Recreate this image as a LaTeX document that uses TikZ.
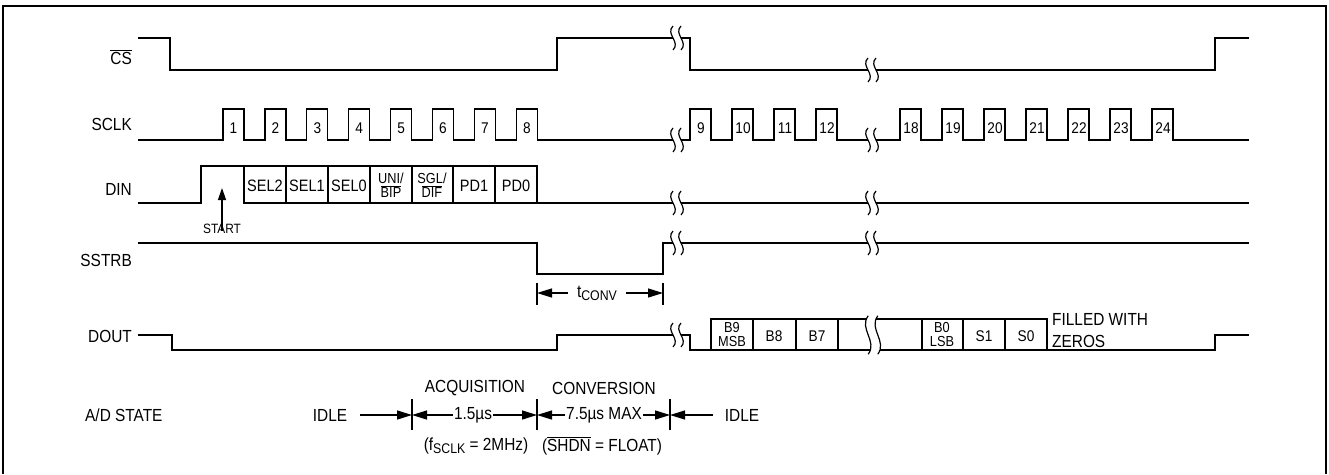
\documentclass[tikz,border=0pt]{standalone}
\usepackage{fontspec}
\setmainfont{Liberation Sans}[FakeStretch=0.88]
\usetikzlibrary{arrows.meta}

\newcommand{\lowsub}[1]{\raisebox{-3pt}{\fontsize{14}{15}\selectfont #1}}

\tikzset{
  brk/.pic={
    \fill[white] (-4,-12) .. controls (-12,-4) and (4,4) .. (-4,12) -- (4,12) .. controls (12,4) and (-4,-4) .. (4,-12) -- cycle;
    \draw[line width=1.2pt] (-4,-12) .. controls (-12,-4) and (4,4) .. (-4,12);
    \draw[line width=1.2pt] (4,-12) .. controls (-4,-4) and (12,4) .. (4,12);
  }
}

\begin{document}
\begin{tikzpicture}[x=1pt,y=-1pt,
    wave/.style={line width=1.3pt},
    sig/.style={anchor=east,inner sep=0pt,font=\fontsize{17.5}{19}\selectfont},
    txt/.style={inner sep=1pt,font=\fontsize{17.5}{19}\selectfont},
    num/.style={inner sep=0pt,font=\fontsize{15.5}{16}\selectfont},
    bit/.style={inner sep=0pt,align=center,font=\fontsize{16.5}{17}\selectfont},
    twoline/.style={inner sep=0pt,align=center,font=\fontsize{14.5}{14}\selectfont},
    dim/.style={line width=1.3pt,-{Triangle[length=15pt,width=9pt]}},
    tick/.style={line width=1.3pt}]
    \useasboundingbox (0,0) rectangle (1329,474);
    \draw[line width=1.5pt] (3,474) -- (3,6) -- (1326,6) -- (1326,474);

    \node[sig] (cs) at (132,57) {$\overline{\mbox{CS}}$};
    \node[sig] (sclk) at (132,124) {SCLK};
    \node[sig] (din) at (132,189) {DIN};
    \node[sig] (sstrb) at (132,260) {SSTRB};
    \node[sig] (dout) at (132,336) {DOUT};
    \node[txt,anchor=west,inner sep=0pt] (adstate) at (85,415) {A/D STATE};

    \draw[wave] (138,38) -- (170,38) -- (170,70) -- (557,70) -- (557,38) -- (690,38)
      -- (690,70) -- (1215,70) -- (1215,38) -- (1249,38);

    \draw[wave] (138,140)
      \foreach \k in {0,...,7} {-- ({223+41.9*\k},140) -- ++(0,-31) -- ++(21,0) -- ++(0,31)}
      \foreach \k in {0,...,3} {-- ({690+42*\k},140) -- ++(0,-31) -- ++(21,0) -- ++(0,31)}
      \foreach \k in {0,...,6} {-- ({900+42*\k},140) -- ++(0,-31) -- ++(21,0) -- ++(0,31)}
      -- (1249,140);
    \foreach \k in {1,...,8} \node[num] (p\k) at ({233.5+41.9*(\k-1)},128) {\k};
    \foreach \k in {9,...,12} \node[num] (p\k) at ({701+42*(\k-9)},128) {\k};
    \foreach \k in {18,...,24} \node[num] (p\k) at ({911+42*(\k-18)},128) {\k};

    \draw[wave] (138,203) -- (201,203) -- (201,166) -- (537,166) -- (537,203);
    \draw[wave] (244,166) -- (244,203) -- (537,203);
    \draw[wave,line width=2.2pt] (537,203) -- (1249,203);
    \foreach \x in {286,328,370,412,453,495} \draw[wave] (\x,166) -- (\x,203);
    \foreach \x/\t in {265/SEL2,307/SEL1,349/SEL0,474/PD1,516/PD0}
      \node[bit] (b\t) at (\x,186) {\t};
    \node[twoline] (unibip) at (391,185) {UNI/\\$\overline{\mbox{BIP}}$};
    \node[twoline] (sgldif) at (432,185) {SGL/\\$\overline{\mbox{DIF}}$};
    \node[txt,inner sep=0pt,font=\fontsize{13.5}{15}\selectfont] (start) at (222,229) {START};
    \coordinate (sttip) at (222,188);
    \draw[line width=1.3pt,-{Triangle[length=12pt,width=8pt]}] ([yshift=-7pt]start.north) -- (sttip);

    \draw[wave] (138,243) -- (537,243) -- (537,274) -- (663,274) -- (663,243) -- (1249,243);
    \coordinate (cv1) at (537,293);
    \coordinate (cv2) at (663,293);
    \draw[tick] (537,283) -- (537,305);
    \draw[tick] (663,283) -- (663,305);
    \node[txt,inner xsep=9pt] (tconv) at (597,293) {t\lowsub{CONV}};
    \draw[dim] (tconv.west) -- (cv1);
    \draw[dim] (tconv.east) -- (cv2);

    \draw[wave] (138,335) -- (172,335) -- (172,350) -- (557,350) -- (557,335) -- (690,335)
      -- (690,350) -- (1215,350) -- (1215,335) -- (1249,335);
    \draw[wave] (711,350) -- (711,319) -- (1047,319) -- (1047,350);
    \foreach \x in {753,796,838,922,963,1005} \draw[wave] (\x,319) -- (\x,350);
    \node[twoline] (b9) at (732,335) {B9\\MSB};
    \node[num] (b8) at (774,336) {B8};
    \node[num] (b7) at (817,336) {B7};
    \node[twoline] (b0) at (942,335) {B0\\LSB};
    \node[num] (s1) at (984,336) {S1};
    \node[num] (s0) at (1026,336) {S0};
    \node[txt,anchor=west,align=left,inner sep=0pt,font=\fontsize{17.5}{22}\selectfont] (zeros) at (1052,331) {FILLED WITH\\ZEROS};

    \foreach \y in {38,140,203,243,335} \pic at (677,\y) {brk};
    \foreach \y in {70,140,203,243} \pic at (872,\y) {brk};
    \pic[yscale=1.6,xscale=1.2] at (873,335) {brk};

    \coordinate (t1) at (412,415);
    \coordinate (t2) at (537,415);
    \coordinate (t3) at (670,415);
    \foreach \t in {t1,t2,t3} \draw[tick] (\t) ++(0,-16) -- ++(0,31);
    \node[txt,inner xsep=13pt] (idle1) at (330,415) {IDLE};
    \node[txt,inner xsep=1pt] (acq) at (473,415) {1.5µs};
    \node[txt,inner xsep=1pt] (conv) at (604,415) {7.5µs MAX};
    \node[txt,inner xsep=12pt] (idle2) at (742,415) {IDLE};
    \draw[dim] (idle1.east) -- (t1);
    \draw[dim] (acq.west) -- (t1);
    \draw[dim] (acq.east) -- (t2);
    \draw[dim] (conv.west) -- (t2);
    \draw[dim] (conv.east) -- (t3);
    \draw[dim] (idle2.west) -- (t3);
    \node[txt] (acqlbl) at (475,388) {ACQUISITION};
    \node[txt] (convlbl) at (604,388) {CONVERSION};
    \node[txt] (fclk) at (476,446) {(f\lowsub{SCLK} = 2MHz)};
    \node[txt] (shdn) at (602,446) {($\overline{\mbox{SHDN}}$ = FLOAT)};
\end{tikzpicture}
\end{document}
